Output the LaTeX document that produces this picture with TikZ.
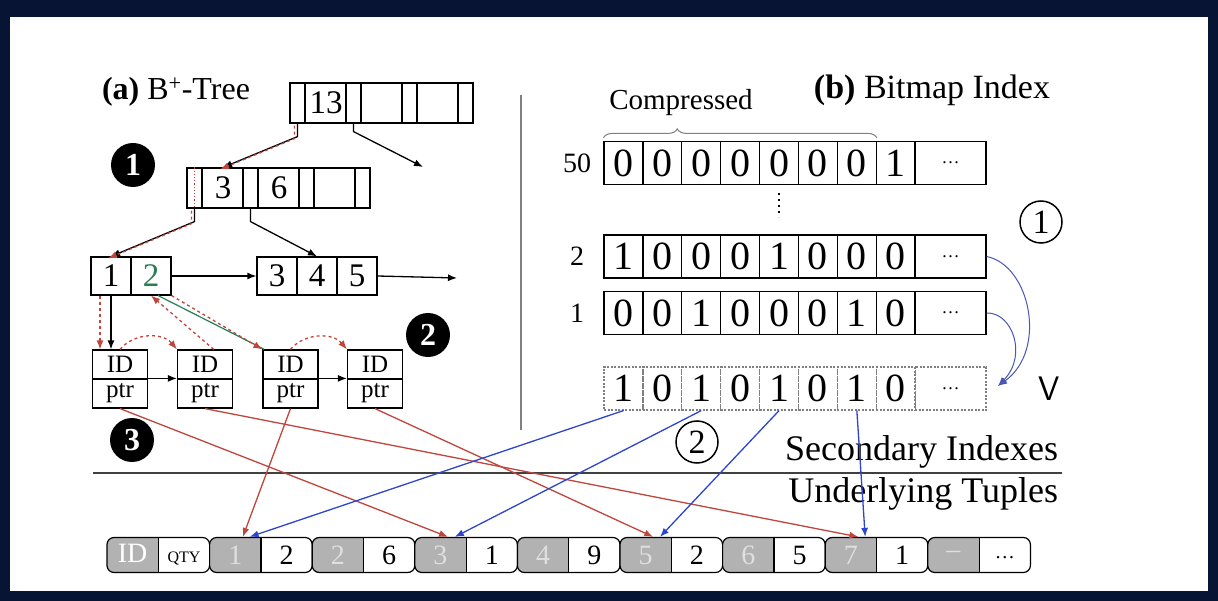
\documentclass[tikz,border=0pt]{standalone}
\usepackage{fontspec}
\setmainfont{Liberation Serif}
\usetikzlibrary{arrows.meta,decorations.pathreplacing}
\definecolor{frameNavy}{RGB}{8,20,52}
\definecolor{redLine}{RGB}{190,70,60}
\definecolor{blueLine}{RGB}{45,70,205}
\definecolor{keyGray}{RGB}{178,178,178}
\definecolor{leafGreen}{RGB}{40,125,85}
\newcommand\setfs[1]{\fontsize{#1}{#1}\selectfont}
\newcommand\tupKV[2]{\makebox[51.3pt]{\color{gray!25}#1}\makebox[51.3pt]{#2}}
\tikzset{
  keyCell/.style={draw,minimum width=41pt,minimum height=40pt,inner sep=0pt,font=\setfs{33}},
  ptrCell/.style={draw,minimum width=15pt,minimum height=40pt,inner sep=0pt},
  leafCell/.style={draw,minimum width=40pt,minimum height=38pt,inner sep=0pt,font=\setfs{33}},
  idCell/.style={draw,minimum width=55pt,minimum height=29pt,inner sep=0pt,font=\setfs{25}},
  bitCell/.style={draw,minimum width=38.9pt,minimum height=43pt,inner sep=0pt,font=\setfs{40}},
  dotsCell/.style={bitCell,minimum width=71pt,font=\setfs{18}},
  vBit/.style={bitCell,draw=gray,dash pattern=on 2pt off 1.5pt},
  rowLab/.style={font=\setfs{28}},
  tupBox/.style={draw,rounded corners=7pt,minimum width=102.6pt,minimum height=35pt,inner sep=0pt,font=\setfs{28},
    path picture={
      \fill[keyGray,sharp corners] (path picture bounding box.north west) rectangle (path picture bounding box.south);
      \draw[line width=1.2pt] (path picture bounding box.north) -- (path picture bounding box.south);}},
  blackNum/.style={circle,fill=black,text=white,minimum size=44pt,inner sep=0pt,font=\setfs{32}\bfseries},
  circNum/.style={circle,draw,line width=1.5pt,minimum size=42pt,inner sep=0pt,font=\setfs{34}},
  treeArrow/.style={-{Latex[length=9pt,width=7pt]},line width=1.3pt},
  searchArrow/.style={treeArrow,redLine,dashed},
  redArrow/.style={treeArrow,redLine},
  blueArrow/.style={treeArrow,blueLine},
  curveArrow/.style={treeArrow,blueLine!70!gray,line width=1pt}
}
\begin{document}
\begin{tikzpicture}[x=1pt,y=-1pt,line width=1.2pt]
  \fill[frameNavy] (0,0) rectangle (1218,601);
  \fill[white] (10,17) rectangle (1208,591);
  \useasboundingbox (0,0) rectangle (1218,601);

  % (a) B+-tree
  \node[font=\setfs{32}] (ttlA) at (176,92) {\textbf{(a)} B\textsuperscript{+}-Tree};
  \foreach \i/\k in {0/13,1/{},2/{}} {
    \node[ptrCell] (rp\i) at ({297.5+56*\i},103) {};
    \node[keyCell] (rk\i) at ({326+56*\i},103) {\k};
  }
  \node[ptrCell] (rp3) at (465.5,103) {};
  \foreach \i/\k in {0/3,1/6,2/{}} {
    \node[ptrCell] (np\i) at ({194.5+56*\i},188) {};
    \node[keyCell] (nk\i) at ({223+56*\i},188) {\k};
  }
  \node[ptrCell] (np3) at (362.5,188) {};
  \draw[redLine,dotted] (np0.north) -- (np0.south);

  \node[leafCell] (l1) at (111,276) {1};
  \node[leafCell,text=leafGreen] (l2) at (151,276) {2};
  \node[leafCell] (m1) at (277,276) {3};
  \node[leafCell] (m2) at (317,276) {4};
  \node[leafCell] (m3) at (357,276) {5};

  \foreach \n/\x in {1/120,2/205,3/290.5,4/375} {
    \node[idCell] (id\n) at (\x,364.5) {ID};
    \node[idCell] (pt\n) at (\x,393.5) {ptr};
  }

  \coordinate (rootOut) at (423,167);
  \coordinate (leafOut) at (457,278);
  \draw[treeArrow] (rp0.south) -- ++(0,13) -- (nk0.north);
  \draw[searchArrow,transform canvas={xshift=-3pt,yshift=-2pt}] (rp0.south) -- ++(0,13) -- (nk0.north);
  \draw[treeArrow] (rp1.south) -- ++(0,8) -- (rootOut);
  \draw[treeArrow] (np0.south) -- ++(0,13) -- (l1.north);
  \draw[searchArrow,transform canvas={xshift=-3pt,yshift=-2pt}] (np0.south) -- ++(0,13) -- (l1.north);
  \draw[treeArrow] (np1.south) -- ++(0,13) -- (m2.north);
  \draw[treeArrow] (l2.east) -- (m1.west);
  \draw[treeArrow] (m3.east) -- (leafOut);
  \draw[treeArrow] (pt1.north east) -- (pt2.north west);
  \draw[treeArrow] (pt3.north east) -- (pt4.north west);

  % search path through the leaf level
  \draw[treeArrow] (l1.south) -- (l1.south |- id1.north);
  \draw[searchArrow,transform canvas={xshift=-11pt}] (l1.south) -- (l1.south |- id1.north);
  \draw[searchArrow] (id1.north) to[bend left=50] (id2.north west);
  \draw[searchArrow] (id3.north) to[bend left=50] (id4.north west);
  \draw[searchArrow] (id2.60) -- (l2.south);
  \draw[leafGreen,line width=1.2pt] (l2.-70) -- (id3.150);
  \draw[searchArrow] (l2.south east) -- (id3.north west);

  \node[blackNum] (s1) at (133,165) {1};
  \node[blackNum] (s2) at (428,335) {2};
  \node[blackNum] (s3) at (132,440) {3};

  % (b) bitmap index
  \draw[gray,line width=1.2pt] (521,95) -- (521,430);
  \node[font=\setfs{34}] (ttlB) at (932,90) {\textbf{(b)} Bitmap Index};
  \node[font=\setfs{29}] (cmp) at (681,103) {Compressed};
  \foreach \row/\y/\bits in {50/163/{0,0,0,0,0,0,0,1},2/256.5/{1,0,0,0,1,0,0,0},1/313/{0,0,1,0,0,0,1,0}} {
    \node[rowLab] (lab\row) at (577,\y) {\row};
    \foreach \b [count=\i] in \bits
      \node[bitCell] (b\row-\i) at ({584.55+38.9*\i},\y) {\b};
    \node[dotsCell] (b\row-d) at (950.5,\y) {\dots};
  }
  \foreach \b [count=\i] in {1,0,1,0,1,0,1,0}
    \node[vBit] (vb\i) at ({584.55+38.9*\i},388.5) {\b};
  \node[vBit,minimum width=71pt,font=\setfs{18}] (vbd) at (950.5,388.5) {\dots};
  \node[font=\sffamily\setfs{34}] (vLab) at (1049,389) {V};
  % skipped rows between 50 and 2
  \draw[line width=2pt,dash pattern=on 2pt off 4pt] (b50-5.south) ++(0,8) -- ++(0,24);
  \draw[decorate,decoration={brace,amplitude=9pt,aspect=0.27,raise=3pt},gray,line width=1pt]
    (b50-1.north west) -- (b50-7.north east);

  \node[circNum] (c1) at (1041,222) {1};
  \node[circNum] (c2) at (697,442) {2};
  \coordinate (vIn) at (998,386);
  \draw[curveArrow] (b2-d.east) .. controls (1030,265) and (1048,350) .. (vIn);
  \draw[curveArrow] (b1-d.east) .. controls (1012,312) and (1028,355) .. (vIn);

  % index / tuple boundary
  \draw[darkgray,line width=2pt] (93,473) -- (1062,473);
  \node[font=\setfs{36},anchor=east] (sec) at (1062,452) {Secondary Indexes};
  \node[font=\setfs{36},anchor=east] (und) at (1062,494) {Underlying Tuples};

  % tuples
  \node[tupBox] (t0) at (158.3,555) {\tupKV{\color{white}ID}{\setfs{16}QTY}};
  \foreach \k/\v in {1/2,2/6,3/1,4/9,5/2,6/5,7/1}
    \node[tupBox] (t\k) at ({158.3+102.6*\k},555) {\tupKV{\k}{\v}};
  \node[tupBox] (t8) at ({158.3+102.6*8},555) {\tupKV{--}{\setfs{20}\dots}};

  \foreach \p/\t in {1/3,2/7,3/1,4/5}
    \draw[redArrow] (pt\p.south) -- (t\t.135);
  \foreach \b/\t in {1/1,3/3,5/5,7/7}
    \draw[blueArrow] (vb\b.south) -- (t\t.122);
\end{tikzpicture}
\end{document}
